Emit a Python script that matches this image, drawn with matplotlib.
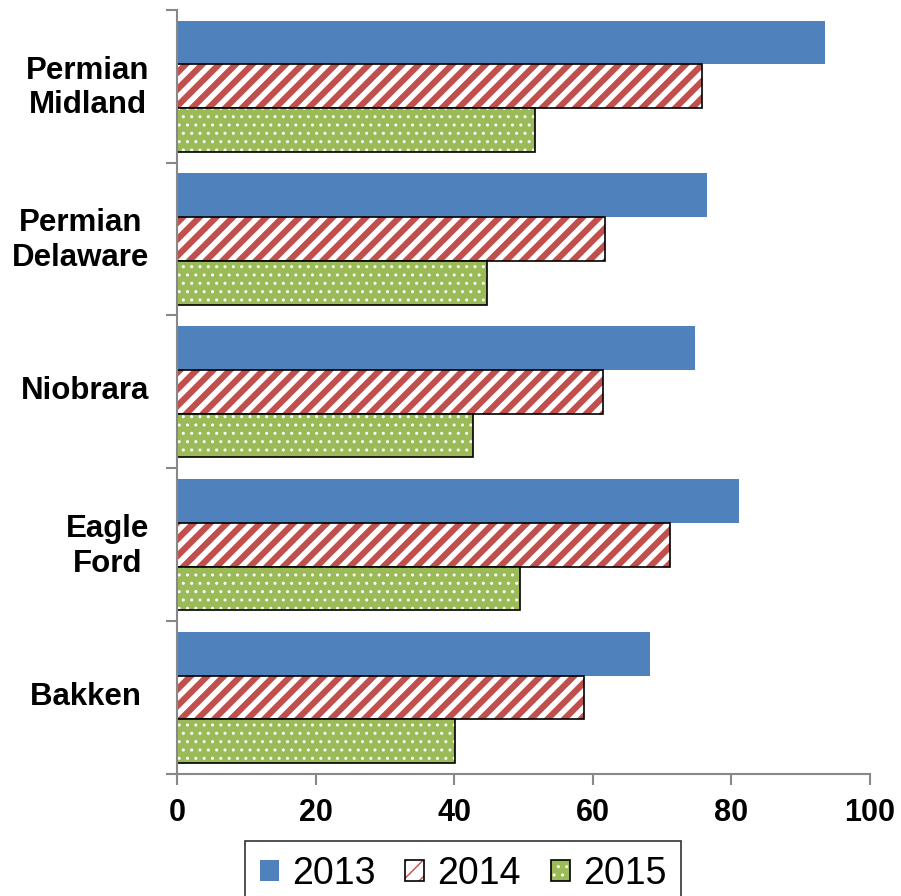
import matplotlib.pyplot as plt
import matplotlib.patches as mpatches
import matplotlib.transforms as mtransforms
import numpy as np

# dane
basins = ['Permian\nMidland', 'Permian\nDelaware', 'Niobrara', 'Eagle\nFord', 'Bakken ']
years = ['2013', '2014', '2015']
v2013 = [93.5, 76.5, 74.7, 81.1, 68.3]
v2014 = [75.8, 61.8, 61.5, 71.1, 58.7]
v2015 = [51.7, 44.7, 42.7, 49.5, 40.1]

plt.rcParams['font.family'] = ['Liberation Sans', 'DejaVu Sans']

fig = plt.figure(figsize=(9.01, 8.96), dpi=100)
ax = fig.add_axes([0.1965, 0.1362, 0.769, 0.853])

n = len(basins)
y = np.arange(n)[::-1]
h = 0.286

blue = '#4F81BD'
red = '#C0504D'
green = '#9BBB59'

ax.barh(y + h, v2013, height=h, color=blue, linewidth=0)
# 2014 - czerwone paski na bialym tle
with plt.rc_context({'hatch.linewidth': 4.5}):
    ax.barh(y, v2014, height=h, facecolor='white', edgecolor=red, hatch='//', linewidth=0)
    h14 = mpatches.Patch(facecolor='white', edgecolor=red, hatch='//', linewidth=0)
ax.barh(y, v2014, height=h, facecolor='none', edgecolor='black', linewidth=1.2)
# 2015 - zielone z bialymi kropkami
with plt.rc_context({'hatch.linewidth': 1.0}):
    ax.barh(y - h, v2015, height=h, facecolor=green, edgecolor='white', hatch='..', linewidth=0)
    h15 = mpatches.Patch(facecolor=green, edgecolor='white', hatch='..', linewidth=0)
ax.barh(y - h, v2015, height=h, facecolor='none', edgecolor='black', linewidth=1.2)

ax.set_xlim(0, 100)
ax.set_ylim(-0.5, n - 0.5)
ax.set_xticks([0, 20, 40, 60, 80, 100])
ax.tick_params(axis='x', length=8, width=1.5, color='#888888', labelsize=22, pad=9)
for t in ax.get_xticklabels():
    t.set_fontweight('bold')

ax.set_yticks(y)
ax.set_yticklabels(basins, fontsize=22.5, fontweight='bold', multialignment='center')
ax.tick_params(axis='y', which='major', length=0, pad=20)
ax.set_yticks(np.arange(n + 1) - 0.5, minor=True)
ax.tick_params(axis='y', which='minor', length=8, width=1.5, color='#888888')
# lekkie przesuniecie etykiet w gore
off = mtransforms.ScaledTranslation(0, 4 / 100, fig.dpi_scale_trans)
for t in ax.get_yticklabels():
    t.set_transform(t.get_transform() + off)

for s in ['top', 'right']:
    ax.spines[s].set_visible(False)
for s in ['left', 'bottom']:
    ax.spines[s].set_color('#888888')
    ax.spines[s].set_linewidth(1.5)

h13 = mpatches.Patch(facecolor=blue, linewidth=0)
edge = mpatches.Patch(facecolor='none', edgecolor='black', linewidth=1.2)
leg = fig.legend([h13, (h14, edge), (h15, edge)], years, loc='lower center',
                 bbox_to_anchor=(0.514, -0.033), ncol=3,
                 fontsize=27, frameon=True, fancybox=False, edgecolor='black',
                 handlelength=0.5, handleheight=0.5, handletextpad=0.35, columnspacing=0.8,
                 borderpad=0.4, borderaxespad=0.5)
leg.get_frame().set_linewidth(1.2)

fig.savefig('out.png', dpi=100)
